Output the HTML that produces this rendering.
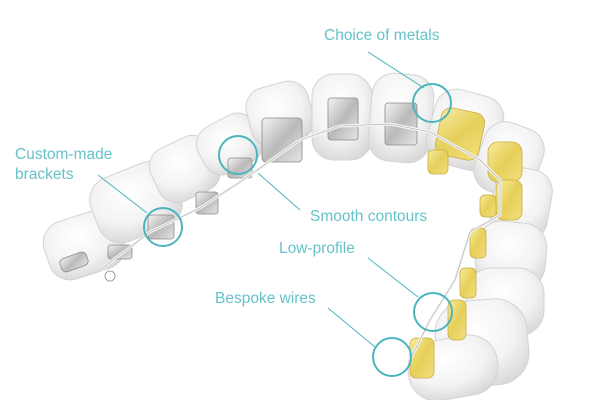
<!DOCTYPE html>
<html><head><meta charset="utf-8"><style>
html,body{margin:0;padding:0;background:#fff;}
svg{display:block}
text{font-family:"Liberation Sans",sans-serif;fill:#66c2c9;font-size:15.5px}
</style></head><body>
<svg width="600" height="400" viewBox="0 0 600 400">
<defs>
<radialGradient id="t" cx="45%" cy="35%" r="70%">
<stop offset="0" stop-color="#ffffff"/><stop offset="0.6" stop-color="#f3f3f3"/><stop offset="1" stop-color="#d8d8d8"/>
</radialGradient>
<linearGradient id="s" x1="0" y1="0" x2="1" y2="1">
<stop offset="0" stop-color="#f4f4f4"/><stop offset="0.5" stop-color="#b9b9b9"/><stop offset="1" stop-color="#e6e6e6"/>
</linearGradient>
<linearGradient id="g" x1="0" y1="0" x2="1" y2="1">
<stop offset="0" stop-color="#f8eba0"/><stop offset="0.5" stop-color="#e6cf5a"/><stop offset="1" stop-color="#f3df7e"/>
</linearGradient>
</defs>
<g stroke="#d4d4d4" stroke-width="1" fill="url(#t)">
<rect x="45" y="215" width="78" height="60" rx="22" transform="rotate(-18 84 245)"/>
<rect x="92" y="168" width="88" height="68" rx="24" transform="rotate(-22 136 202)"/>
<rect x="152" y="140" width="66" height="58" rx="20" transform="rotate(-25 185 169)"/>
<rect x="198" y="118" width="64" height="52" rx="20" transform="rotate(-28 230 144)"/>
<rect x="248" y="84" width="64" height="60" rx="20" transform="rotate(-15 280 114)"/>
<rect x="312" y="74" width="60" height="86" rx="22"/>
<rect x="370" y="74" width="62" height="88" rx="22" transform="rotate(5 401 118)"/>
<rect x="430" y="92" width="70" height="76" rx="22" transform="rotate(15 465 130)"/>
<rect x="478" y="124" width="62" height="72" rx="22" transform="rotate(20 509 160)"/>
<rect x="492" y="168" width="58" height="72" rx="22" transform="rotate(10 521 204)"/>
<rect x="476" y="222" width="70" height="66" rx="24" transform="rotate(5 511 255)"/>
<rect x="466" y="268" width="78" height="68" rx="26"/>
<rect x="436" y="300" width="92" height="86" rx="32" transform="rotate(-5 482 343)"/>
<rect x="408" y="338" width="90" height="60" rx="28" transform="rotate(-10 453 368)"/>
</g>
<g fill="url(#s)" stroke="#8a8a8a" stroke-width="0.8">
<rect x="60" y="255" width="28" height="14" rx="5" transform="rotate(-20 74 262)"/>
<rect x="108" y="245" width="24" height="14" rx="3"/>
<rect x="148" y="215" width="26" height="24" rx="3"/>
<rect x="196" y="192" width="22" height="22" rx="3"/>
<rect x="228" y="158" width="24" height="20" rx="3"/>
<rect x="262" y="118" width="40" height="44" rx="4"/>
<rect x="328" y="98" width="30" height="42" rx="3"/>
<rect x="385" y="103" width="32" height="42" rx="3"/>
<circle cx="110" cy="276" r="5" fill="none"/>
</g>
<g fill="url(#g)" stroke="#c8ad40" stroke-width="0.8">
<rect x="438" y="110" width="44" height="48" rx="10" transform="rotate(12 460 134)"/>
<rect x="488" y="142" width="34" height="40" rx="10"/>
<rect x="496" y="180" width="26" height="40" rx="8"/>
<rect x="428" y="150" width="20" height="24" rx="5"/>
<rect x="480" y="195" width="16" height="22" rx="5"/>
<rect x="470" y="228" width="16" height="30" rx="5"/>
<rect x="460" y="268" width="16" height="30" rx="5"/>
<rect x="448" y="300" width="18" height="40" rx="6"/>
<rect x="410" y="338" width="24" height="40" rx="6"/>
</g>
<path d="M100 270 L150 232 L200 208 L240 182 L300 140 L340 126 L390 124 L430 132 L480 160 L500 180 L500 215 L470 232 L455 280 L430 320 L410 360" fill="none" stroke="#f5f5f5" stroke-width="3"/>
<path d="M100 270 L150 232 L200 208 L240 182 L300 140 L340 126 L390 124 L430 132 L480 160 L500 180 L500 215 L470 232 L455 280 L430 320 L410 360" fill="none" stroke="#a8a8a8" stroke-width="0.6"/>
<g stroke="#4bb5bd" fill="none">
<line x1="368" y1="52" x2="424" y2="88" stroke-width="1"/>
<circle cx="432" cy="103" r="19" stroke-width="2"/>
<line x1="98" y1="175" x2="147" y2="213" stroke-width="1"/>
<circle cx="163" cy="227" r="19" stroke-width="2"/>
<circle cx="238" cy="155" r="19" stroke-width="2"/>
<line x1="258" y1="173" x2="300" y2="210" stroke-width="1"/>
<line x1="368" y1="258" x2="418" y2="297" stroke-width="1"/>
<circle cx="433" cy="312" r="19" stroke-width="2"/>
<line x1="328" y1="308" x2="375" y2="347" stroke-width="1"/>
<circle cx="392" cy="357" r="19" stroke-width="2"/>
</g>
<text x="324" y="40">Choice of metals</text>
<text x="15" y="159">Custom-made</text>
<text x="15" y="179">brackets</text>
<text x="310" y="221">Smooth contours</text>
<text x="279" y="253">Low-profile</text>
<text x="215" y="303">Bespoke wires</text>
</svg>
</body></html>
